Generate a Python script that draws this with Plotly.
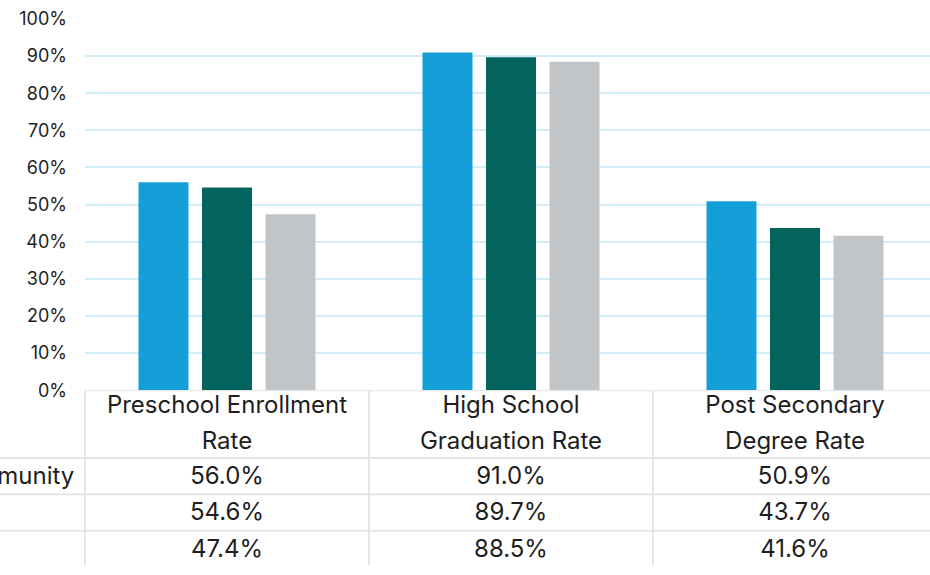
import plotly.graph_objects as go

# ---- data ----
categories = ["Preschool Enrollment<br>Rate", "High School<br>Graduation Rate", "Post Secondary<br>Degree Rate"]
series_names = ["Our Community", "State", "Nation"]
community = [56.0, 91.0, 50.9]
state = [54.6, 89.7, 43.7]
nation = [47.4, 88.5, 41.6]
y_ticks = list(range(0, 101, 10))
y_tick_labels = [f"{v}%" for v in y_ticks]
colors = ["#149fd9", "#02645c", "#c1c5c8"]

series = [community, state, nation]

# ---- layout constants (pixels) ----
W, H = 930, 575
TOP = 19
PLOT_LEFT = 85
TABLE_TOP = 397
CAT_PX = 284
ROW_PX = 37
HEADER_ROWS = 69 / ROW_PX
FONT = "Inter"
TXT = "#1e1e1e"
LINE = "#e4e4e4"

plot_h = H - TOP
x_units_visible = (W - PLOT_LEFT) / CAT_PX
x_hi = -0.5 + x_units_visible
x2_lo = -0.5 - PLOT_LEFT / CAT_PX
table_units = (H - TABLE_TOP) / ROW_PX
split = (H - TABLE_TOP) / plot_h

xs = list(range(len(categories)))

fig = go.Figure()
for name, vals, col in zip(series_names, series, colors):
    fig.add_trace(go.Bar(x=xs, y=vals, name=name, marker=dict(color=col, line=dict(width=0)),
                         xaxis="x", yaxis="y", showlegend=False, hoverinfo="skip"))

# header text (two lines per category)
header_line_y = [0.47, 1.44]
hx, hy, ht = [], [], []
for i, c in enumerate(categories):
    for j, part in enumerate(c.split("<br>")):
        hx.append(i)
        hy.append(header_line_y[j])
        ht.append(part)
fig.add_trace(go.Scatter(x=hx, y=hy, text=ht, mode="text", textposition="middle center",
                         textfont=dict(family=FONT, size=24, color=TXT),
                         xaxis="x2", yaxis="y2", showlegend=False, hoverinfo="skip"))

# values
vx, vy, vt = [], [], []
for r, vals in enumerate(series):
    for i, v in enumerate(vals):
        vx.append(i)
        vy.append(HEADER_ROWS + r + 0.55)
        vt.append(f"{v:.1f}%")
fig.add_trace(go.Scatter(x=vx, y=vy, text=vt, mode="text", textposition="middle center",
                         textfont=dict(family=FONT, size=24, color=TXT),
                         xaxis="x2", yaxis="y2", showlegend=False, hoverinfo="skip"))

# row labels (left aligned, partly off the page)
label_x = x2_lo - 104 / CAT_PX
fig.add_trace(go.Scatter(x=[label_x] * len(series_names),
                         y=[HEADER_ROWS + r + 0.55 for r in range(len(series_names))],
                         text=series_names, mode="text", textposition="middle right",
                         textfont=dict(family=FONT, size=24, color=TXT),
                         xaxis="x2", yaxis="y2", showlegend=False, hoverinfo="skip"))

# table lines
shapes = []
n_rows = len(series)
for b in [k - 0.5 for k in range(len(categories) + 1)]:
    shapes.append(dict(type="line", xref="x2", yref="y2", x0=b, x1=b, y0=0, y1=HEADER_ROWS + n_rows,
                       line=dict(color=LINE, width=2)))
shapes.append(dict(type="line", xref="x2", yref="y2", x0=-0.5, x1=len(categories) - 0.5, y0=0, y1=0,
                   line=dict(color=LINE, width=2)))
for r in range(n_rows + 1):
    yy = HEADER_ROWS + r
    shapes.append(dict(type="line", xref="x2", yref="y2", x0=x2_lo - 1, x1=len(categories) - 0.5,
                       y0=yy, y1=yy, line=dict(color=LINE, width=2)))

fig.update_layout(
    width=W, height=H,
    margin=dict(l=0, r=0, t=TOP, b=0, pad=0),
    paper_bgcolor="white", plot_bgcolor="white",
    barmode="group", bargap=0.329, bargroupgap=0.213,
    font=dict(family=FONT, color=TXT),
    xaxis=dict(domain=[PLOT_LEFT / W, 1], range=[-0.5, x_hi], showgrid=False, zeroline=False,
               showticklabels=False, showline=False, fixedrange=True),
    yaxis=dict(domain=[split, 1], range=[0, 100], tickvals=y_ticks, ticktext=y_tick_labels,
               showgrid=True, gridcolor="#d3ecf9", gridwidth=1.5, zeroline=False, showline=False,
               ticks="", ticklabelstandoff=17, tickfont=dict(family=FONT, size=18, color=TXT),
               fixedrange=True),
    xaxis2=dict(domain=[0, 1], range=[x2_lo, x_hi], showgrid=False, zeroline=False,
                showticklabels=False, showline=False, anchor="y2", fixedrange=True),
    yaxis2=dict(domain=[0, split], range=[table_units, 0], showgrid=False, zeroline=False,
                showticklabels=False, showline=False, anchor="x2", fixedrange=True),
    shapes=shapes,
)

fig.write_html("out.html", config={"responsive": False, "displayModeBar": False},
               post_script="document.body.style.margin='0';")
